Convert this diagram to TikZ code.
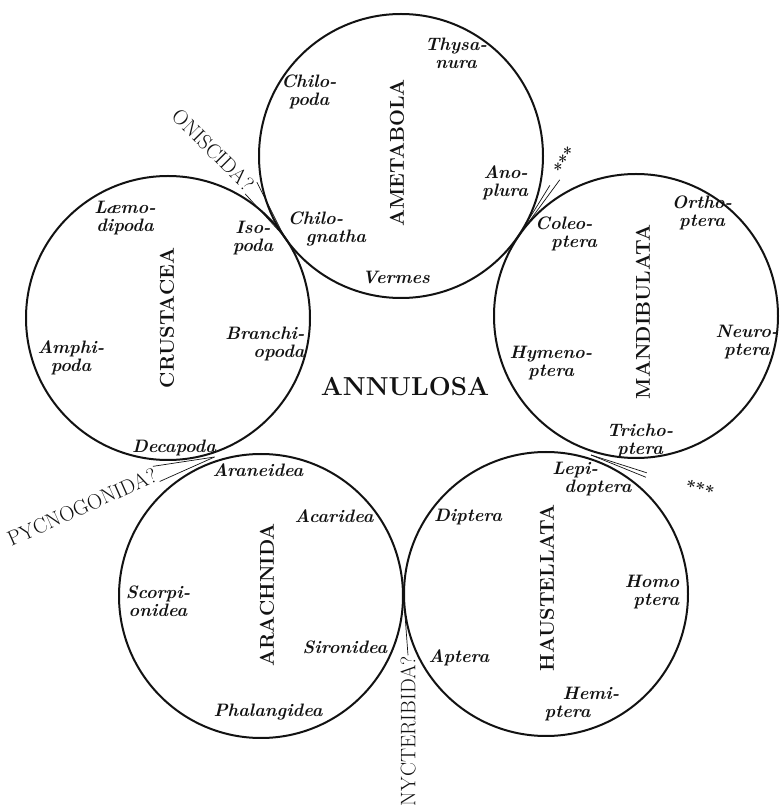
\documentclass[tikz,border=0pt]{standalone}
\usepackage{fontspec}
\usetikzlibrary{calc}
\begin{document}
\begin{tikzpicture}[x=1pt, y=1pt, ring/.style={circle, draw=prInk, line width=2pt, minimum size=284, inner sep=0pt}, order/.style={font=\fontsize{18}{18}\selectfont\bfseries\itshape, align=center, inner sep=0pt}, klass/.style={font=\fontsize{20}{22}\selectfont\bfseries, rotate=90, inner sep=0pt}, stray/.style={font=\fontsize{21}{22}\selectfont, inner sep=0.5pt}, stars/.style={font=\fontsize{17}{17}\selectfont\bfseries, inner sep=1pt}, thread/.style={line width=0.7pt, prInk}, every node/.style={text=prInk}]
\definecolor{prInk}{rgb}{0.07,0.07,0.07}
\useasboundingbox (0,0) rectangle (782,807);
\node[ring] (amet) at (401,651) {};
\node[ring] (crus) at (168,489) {};
\node[ring] (mand) at (636,491) {};
\node[ring] (arac) at (261,211) {};
\node[ring] (haus) at (546,213) {};
\coordinate (jAC) at ($(amet)!0.5!(crus)$);
\coordinate (jAM) at ($(amet)!0.5!(mand)$);
\coordinate (jCR) at ($(crus)!0.5!(arac)$);
\coordinate (jMH) at ($(mand)!0.5!(haus)$);
\coordinate (jAH) at ($(arac)!0.5!(haus)$);
\node[klass] (ametName) at (397,654) {AMETABOLA};
\node[order] (thys) at (456,754) {Thysa-\\nura};
\node[order] (chpo) at (309,715) {Chilo-\\poda};
\node[order, align=right] (anop) at (505,624) {Ano-\\plura};
\node[order, align=left] (chgn) at (327,578) {Chilo-\\\hspace*{18pt}gnatha};
\node[order] (verm) at (396,530) {Vermes};
\node[klass] (crusName) at (167,489) {CRUSTACEA};
\node[order] (laem) at (125,589) {Læmo-\\dipoda};
\node[order] (isop) at (253,569) {Iso-\\poda};
\node[order, align=right] (bran) at (265,463) {Branchi-\\opoda};
\node[order] (amph) at (71,449) {Amphi-\\poda};
\node[order] (deca) at (174,359) {Decapoda};
\node[klass] (mandName) at (643,495) {MANDIBULATA};
\node[order] (orth) at (702,594) {Ortho-\\ptera};
\node[order, align=left] (cole) at (566,573) {Coleo-\\\hspace*{16pt}ptera};
\node[order] (neur) at (747,465) {Neuro-\\ptera};
\node[order] (hyme) at (551,444) {Hymeno-\\ptera};
\node[order] (tric) at (640,366) {Tricho-\\ptera};
\node[klass] (aracName) at (267,212) {ARACHNIDA};
\node[order] (aran) at (258,337) {Araneidea};
\node[order] (acar) at (334,291) {Acaridea};
\node[order] (scor) at (158,206) {Scorpi-\\onidea};
\node[order] (siro) at (345,160) {Sironidea};
\node[order] (phal) at (268,95) {Phalangidea};
\node[klass] (hausName) at (547,219) {HAUSTELLATA};
\node[order, align=left] (lepi) at (592,328) {Lepi-\\\hspace*{12pt}doptera};
\node[order] (dipt) at (468,290) {Diptera};
\node[order, align=right] (homo) at (652,215) {Homo\\ptera};
\node[order] (apte) at (459,149) {Aptera};
\node[order, align=left] (hemi) at (582,103) {\hspace*{18pt}Hemi-\\ptera};
\node[font=\fontsize{26}{28}\selectfont\bfseries, inner sep=0pt] (annu) at (405,420) {ANNULOSA};
\node[stray, rotate=-45] (onis) at (213,657) {ONISCIDA?};
\node[stray, rotate=24] (pycn) at (82,300) {PYCNOGONIDA?};
\node[stray, rotate=90] (nyct) at (408,76) {NYCTERIBIDA?};
\node[stars, rotate=60] (starA) at (565,647) {***};
\node[stars, rotate=-15] (starB) at (700,318) {***};
\draw[thread] (onis.north east) -- (jAC);
\draw[thread] (onis.south east) -- (jAC);
\draw[thread] (pycn.north east) -- (jCR);
\draw[thread] (pycn.south east) -- (jCR);
\draw[thread] (nyct.east) -- (jAH);
\draw[thread, shorten <=14pt] (starA.west) -- (jAM);
\draw[thread, shorten <=20pt] (starA.south) -- (jAM);
\draw[thread, shorten <=40pt] (starB.west) -- (jMH);
\draw[thread, shorten <=40pt] (starB.south west) -- (jMH);
\end{tikzpicture}
\end{document}
